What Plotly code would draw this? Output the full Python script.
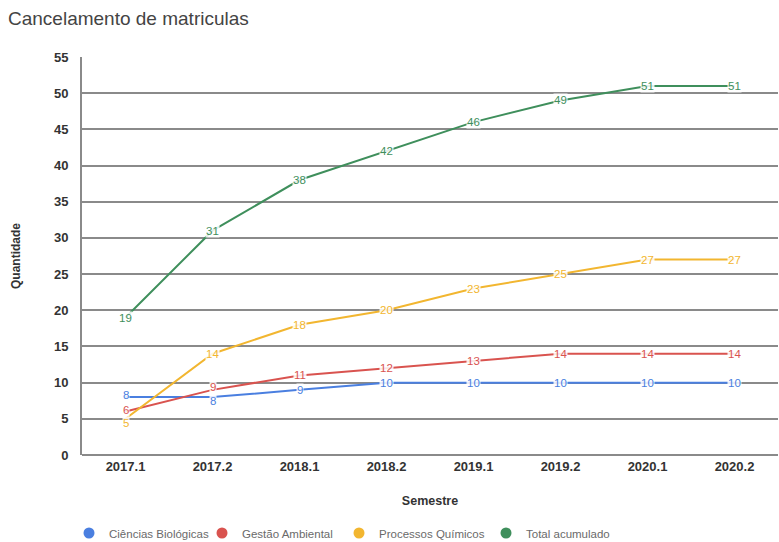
import plotly.graph_objects as go

semestres = ["2017.1", "2017.2", "2018.1", "2018.2", "2019.1", "2019.2", "2020.1", "2020.2"]
ciencias_biologicas = [8, 8, 9, 10, 10, 10, 10, 10]
gestao_ambiental = [6, 9, 11, 12, 13, 14, 14, 14]
processos_quimicos = [5, 14, 18, 20, 23, 25, 27, 27]
total_acumulado = [19, 31, 38, 42, 46, 49, 51, 51]

series = [
    ("Ciências Biológicas", ciencias_biologicas, "#4a7fe0"),
    ("Gestão Ambiental", gestao_ambiental, "#d9534f"),
    ("Processos Químicos", processos_quimicos, "#f2b630"),
    ("Total acumulado", total_acumulado, "#3f8f5c"),
]
# legend item left edges (px, container coordinates)
legend_x_px = [69, 202, 339, 486]
# small vertical nudges (px) for crowded labels: (series index, point index) -> shift
label_nudges = {(0, 0): 2, (1, 0): 2, (2, 0): -4, (0, 1): -4, (1, 1): 3}

W, H = 779, 542
FONT = "Liberation Sans, Arial, sans-serif"

fig = go.Figure()
annotations = []
legends = {}
for k, (name, vals, color) in enumerate(series):
    lg = "legend" if k == 0 else f"legend{k + 1}"
    fig.add_trace(go.Scatter(x=semestres, y=vals, mode="lines", name=name,
                             line=dict(color=color, width=2), showlegend=False))
    fig.add_trace(go.Scatter(x=[None], y=[None], mode="markers", name=name, legend=lg,
                             marker=dict(color=color, size=11, symbol="circle")))
    legends[lg] = dict(orientation="h", xref="container", yref="container",
                       x=legend_x_px[k] / W, xanchor="left", y=1 - 533 / H, yanchor="middle",
                       font=dict(family=FONT, size=11.5, color="#6a6a6a"),
                       bgcolor="rgba(0,0,0,0)")
    for i, yv in enumerate(vals):
        annotations.append(dict(x=i, y=yv, xref="x", yref="y", text=str(yv),
                                showarrow=False, bgcolor="rgba(255,255,255,0.85)",
                                borderpad=0, yshift=label_nudges.get((k, i), 0),
                                font=dict(family=FONT, size=11.5, color=color)))

fig.update_layout(
    width=W, height=H,
    margin=dict(l=82, r=1, t=57, b=87),
    paper_bgcolor="white", plot_bgcolor="white",
    title=dict(text="Cancelamento de matriculas", x=8 / W, xanchor="left",
               y=1 - 18 / H, yanchor="middle",
               font=dict(family=FONT, size=19, color="#444")),
    xaxis=dict(type="category", range=[-0.5, 7.5], showgrid=False, showline=False,
               ticks="", ticklabelstandoff=2,
               tickfont=dict(family=FONT, size=13, color="#333", weight="bold"),
               title=dict(text="Semestre", standoff=23,
                          font=dict(family=FONT, size=12.5, color="#333", weight="bold"))),
    yaxis=dict(range=[0, 55], dtick=5, showgrid=True, gridcolor="#8a8a8a", gridwidth=2,
               zeroline=True, zerolinecolor="#8a8a8a", zerolinewidth=2,
               showline=True, linecolor="#8a8a8a", linewidth=2,
               ticks="", ticklabelstandoff=9,
               tickfont=dict(family=FONT, size=13, color="#333", weight="bold"),
               title=dict(text="Quantidade", standoff=31,
                          font=dict(family=FONT, size=12, color="#333", weight="bold"))),
    annotations=annotations,
    **legends,
)

fig.write_html("out.html", config={"displayModeBar": False},
               post_script="document.body.style.margin='0';")
